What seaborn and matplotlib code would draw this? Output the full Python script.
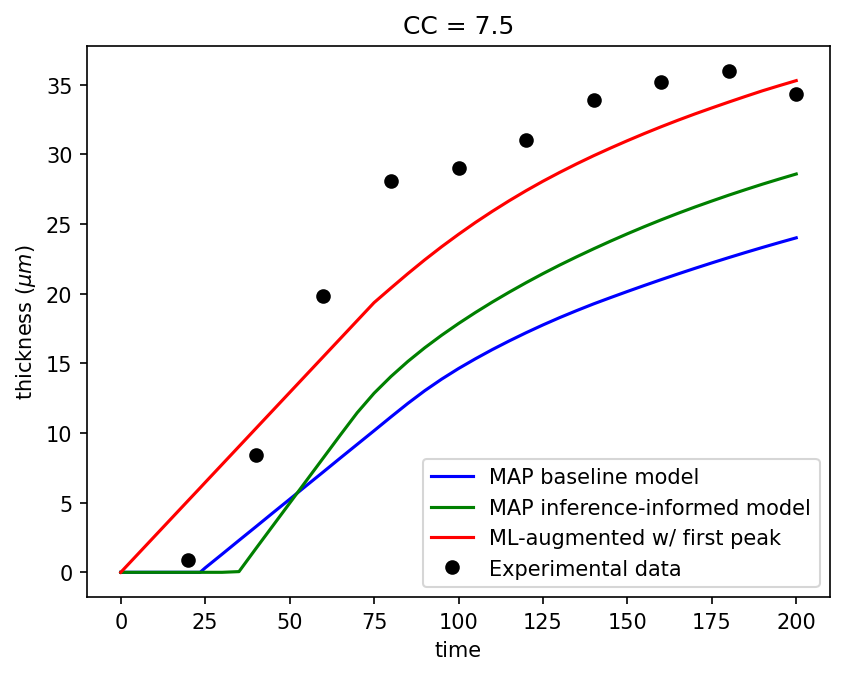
import matplotlib
matplotlib.use("Agg")
import matplotlib.pyplot as plt
import seaborn as sns
import pandas as pd

time = [0, 5, 10, 15, 20, 23.5, 25, 30, 35, 40, 45, 50, 55, 60, 65, 70, 75, 80,
        85, 90, 95, 100, 105, 110, 115, 120, 125, 130, 135, 140, 145, 150, 155,
        160, 165, 170, 175, 180, 185, 190, 195, 200]

baseline = [0, 0, 0, 0, 0, 0, 0.32, 1.30, 2.29, 3.27, 4.26, 5.24, 6.23, 7.21,
            8.20, 9.18, 10.16, 11.15, 12.12, 13.03, 13.86, 14.62, 15.32, 15.98,
            16.60, 17.19, 17.75, 18.28, 18.78, 19.26, 19.71, 20.15, 20.58,
            21.00, 21.41, 21.81, 22.20, 22.58, 22.95, 23.31, 23.66, 24.00]

informed = [0, 0, 0, 0, 0, 0, 0, 0, 0.05, 1.70, 3.33, 4.96, 6.59, 8.22, 9.85,
            11.45, 12.85, 14.05, 15.13, 16.11, 17.01, 17.85, 18.64, 19.39,
            20.10, 20.78, 21.43, 22.05, 22.64, 23.21, 23.76, 24.29, 24.80,
            25.29, 25.76, 26.21, 26.64, 27.06, 27.46, 27.85, 28.22, 28.58]

ml_aug = [0, 1.29, 2.58, 3.87, 5.16, 6.06, 6.45, 7.74, 9.03, 10.32, 11.61,
          12.90, 14.19, 15.48, 16.77, 18.06, 19.35, 20.40, 21.43, 22.42,
          23.36, 24.25, 25.10, 25.90, 26.66, 27.38, 28.06, 28.70, 29.31,
          29.89, 30.44, 30.97, 31.48, 31.97, 32.44, 32.89, 33.32, 33.74,
          34.15, 34.55, 34.92, 35.28]

exp_time = [20, 40, 60, 80, 100, 120, 140, 160, 180, 200]
exp_thick = [0.9, 8.4, 19.8, 28.1, 29.0, 31.0, 33.9, 35.2, 36.0, 34.3]

labels = ["MAP baseline model", "MAP inference-informed model",
          "ML-augmented w/ first peak"]
colors = ["blue", "green", "red"]

plt.rcParams['font.family'] = ['DejaVu Sans']

fig = plt.figure(figsize=(845 / 150, 678 / 150), dpi=150)
ax = fig.add_axes([87 / 845, 1 - 598.4 / 678, (830 - 87) / 845, (598.4 - 46.5) / 678])

for vals, lab, col in zip([baseline, informed, ml_aug], labels, colors):
    df = pd.DataFrame({"time": time, "thickness": vals})
    sns.lineplot(data=df, x="time", y="thickness", color=col, label=lab,
                 ax=ax, linewidth=1.5, estimator=None, sort=False)

dfe = pd.DataFrame({"time": exp_time, "thickness": exp_thick})
ax.plot(dfe["time"], dfe["thickness"], "o", color="black", markersize=6,
        label="Experimental data")

ax.set_title("CC = 7.5", fontsize=12)
ax.set_xlabel("time", fontsize=10)
ax.set_ylabel(r"thickness ($\mu m$)", fontsize=10)
ax.set_xticks([0, 25, 50, 75, 100, 125, 150, 175, 200])
ax.set_yticks([0, 5, 10, 15, 20, 25, 30, 35])
ax.tick_params(labelsize=10)
ax.set_xlim(-10, 210)
ax.set_ylim(-1.8, 37.8)
ax.legend(loc="lower right", fontsize=10)

fig.savefig("out.png", dpi=150)
